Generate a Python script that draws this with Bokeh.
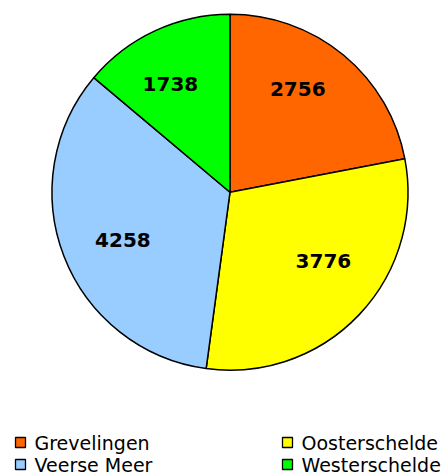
import math
from bokeh.plotting import figure
from bokeh.models import Range1d
from bokeh.core.properties import value
from bokeh.embed import file_html
from bokeh.resources import INLINE

categories = ["Grevelingen", "Oosterschelde", "Veerse Meer", "Westerschelde"]
values = [2756, 3776, 4258, 1738]
colors = ["#FF6600", "#FFFF00", "#99CCFF", "#00FF00"]
legend_order = ["Grevelingen", "Oosterschelde", "Veerse Meer", "Westerschelde"]

W, H = 447, 476
p = figure(width=W, height=H, output_backend="svg", toolbar_location=None,
           x_range=Range1d(0, W), y_range=Range1d(0, H), min_border=0)
p.axis.visible = False
p.grid.visible = False
p.outline_line_color = None
p.background_fill_color = "white"
p.border_fill_color = "white"

cx, cy, R = 229.5, H - 191.7, 178
total = sum(values)
starts, ends, mids = [], [], []
cum = 0
for v in values:
    a0 = math.pi / 2 - 2 * math.pi * cum / total
    cum += v
    a1 = math.pi / 2 - 2 * math.pi * cum / total
    starts.append(a0)
    ends.append(a1)
    mids.append((a0 + a1) / 2)

p.wedge(x=[cx] * 4, y=[cy] * 4, radius=R, radius_units="screen",
        start_angle=starts, end_angle=ends, direction="clock",
        fill_color=colors, line_color="black", line_width=1.5)

lf = 0.67
rot = math.radians(5)
lx = [cx + lf * R * math.cos(m + rot) for m in mids]
ly = [cy + lf * R * math.sin(m + rot) for m in mids]
p.text(x=lx, y=ly, text=[str(v) for v in values], text_align="center",
       text_baseline="middle", y_offset=-5, text_font=value("DejaVu Sans"),
       text_font_style="bold", text_font_size="20px", text_color="black")

# legend (2 columns x 2 rows)
col_x = [20, 287]
row_y = [H - 442, H - 464]
sq_x, sq_y, tx, ty, labs, lcol = [], [], [], [], [], []
for i, name in enumerate(legend_order):
    c, r = i % 2, i // 2
    sq_x.append(col_x[c])
    sq_y.append(row_y[r])
    tx.append(col_x[c] + 14)
    ty.append(row_y[r])
    labs.append(name)
    lcol.append(colors[categories.index(name)])
p.rect(x=sq_x, y=sq_y, width=10, height=10, width_units="screen",
       height_units="screen", fill_color=lcol, line_color="black", line_width=1.3)
p.text(x=tx, y=ty, text=labs, text_align="left", text_baseline="middle",
       text_font=value("DejaVu Sans"), text_font_size="19px", text_color="black")

open("out.html", "w").write(file_html(p, INLINE))
